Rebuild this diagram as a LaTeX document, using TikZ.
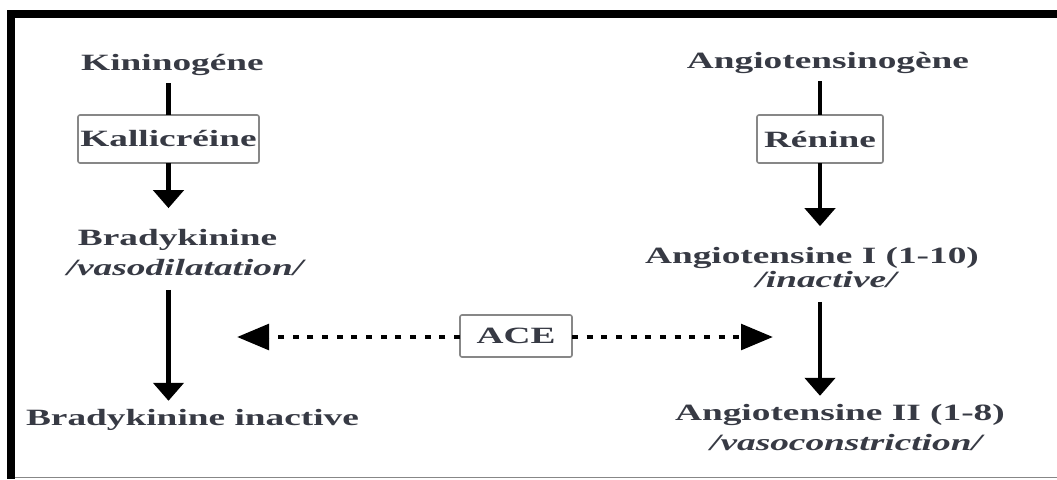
\documentclass[tikz,border=0pt]{standalone}
\usepackage{fontspec}
\setmainfont[FakeStretch=1.6]{Liberation Serif}
\usetikzlibrary{arrows.meta}

\definecolor{txtcol}{RGB}{55,58,68}
\definecolor{boxgray}{RGB}{135,135,135}

\tikzset{
    lbl/.style={inner sep=0pt, outer ysep=6pt, text=txtcol,
        font=\fontsize{17.5}{21}\selectfont\bfseries},
    mid/.style={lbl, outer ysep=15.5pt},
    note/.style={lbl, outer ysep=11pt,
        font=\fontsize{17.5}{21}\selectfont\bfseries\itshape},
    enz/.style={lbl, draw=boxgray, line width=1.2pt, rounded corners=1.5pt,
        fill=white, minimum height=36pt, outer sep=0pt},
    arr/.style={-{Triangle[length=13.5pt,width=22.5pt]}, line width=3.5pt},
    dotarr/.style={-{Triangle[length=24pt,width=19pt]}, line width=3.5pt,
        dash pattern=on 4.5pt off 6.5pt},
}

\begin{document}
\begin{tikzpicture}[x=0.75pt,y=-0.75pt]
    \useasboundingbox (0,0) rectangle (1057,479);
    % frame
    \fill[black] (7,10) rectangle (1057,18);
    \fill[black] (7,10) rectangle (15,479);
    \draw[boxgray,line width=0.8pt] (15,477.5) -- (1057,477.5);

    % kinin side
    \node[lbl, anchor=base] (kin) at (172.5,70) {Kininogéne};
    \node[enz, minimum width=135.75pt] (kal) at (168.5,139) {Kallicréine};
    \node[mid, anchor=base] (brad) at (177.5,245) {Bradykinine};
    \node[note, anchor=base] (bradnote) at (185,275) {/vasodilatation/};
    \node[lbl, anchor=base] (bradinact) at (192.5,425) {Bradykinine inactive};

    % angiotensin side
    \node[lbl, anchor=base] (angn) at (828,68) {Angiotensinogène};
    \node[enz, minimum width=94.5pt] (renin) at (820,139) {Rénine};
    \node[mid, anchor=base] (ang1) at (812,263) {Angiotensine I (1-10)};
    \node[note, anchor=base] (ang1note) at (826,287) {/inactive/};
    \node[lbl, anchor=base] (ang2) at (840,420) {Angiotensine II (1-8)};
    \node[note, anchor=base] (ang2note) at (846,450) {/vasoconstriction/};

    % ACE
    \node[enz, minimum width=84pt, minimum height=31.5pt] (ace) at (516,336) {ACE};
    \coordinate (aceL) at (237,337);
    \coordinate (aceR) at (773,337);

    \draw[line width=3.5pt] (kal |- kin.south) -- (kal);
    \draw[arr] (kal) -- (kal |- brad.north);
    \draw[arr] (kal |- bradnote.south) -- (kal |- bradinact.north);

    \draw[line width=3.5pt] (renin |- angn.south) -- (renin);
    \draw[arr] (renin) -- (renin |- ang1.north);
    \draw[arr] (renin |- ang1note.south) -- (renin |- ang2.north);

    \draw[dotarr] (ace.west |- aceL) -- (aceL);
    \draw[dotarr] (ace.east |- aceR) -- (aceR);
\end{tikzpicture}
\end{document}
